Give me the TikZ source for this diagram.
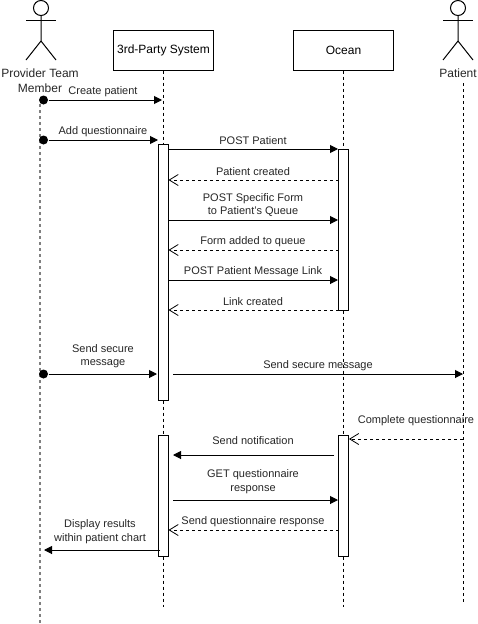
\documentclass[tikz,border=0pt]{standalone}
\usepackage{fontspec}
\setmainfont{Liberation Sans}
\usetikzlibrary{arrows.meta}

\begin{document}
\begin{tikzpicture}[x=1pt,y=-1pt,line width=1pt,
	part/.style={draw,minimum width=100pt,minimum height=40pt,inner sep=0pt,font=\fontsize{12}{14}\selectfont},
	act/.style={draw,fill=white,minimum width=10pt,inner sep=0pt},
	life/.style={dash pattern=on 3pt off 3pt},
	lifeg/.style={gray,line width=1.5pt,dash pattern=on 3pt off 3pt},
	fd/.style={circle,fill,inner sep=0pt,minimum size=9pt},
	msg/.style={font=\fontsize{11}{13.5}\selectfont,align=center,text=black!85,inner sep=0pt,yshift=-1pt},
	lbl/.style={font=\fontsize{12}{15}\selectfont,align=center,text=black!85,inner sep=0pt},
	call/.style={-{Triangle[length=8pt,width=8pt]}},
	ret/.style={dash pattern=on 3pt off 3pt,-{Straight Barb[length=9pt,width=11pt,line width=0.8pt]}}]
	
	\useasboundingbox (0,0) rectangle (477,624);
	
	% Actors
	\coordinate (pa) at (41,20);
	\node[circle,draw,inner sep=0pt,minimum size=15pt] (pahead) at (41,8) {};
	\coordinate (pal) at (26,20);
	\coordinate (par) at (56,20);
	\coordinate (pah) at (41,41);
	\coordinate (pafl) at (26,60);
	\coordinate (pafr) at (56,60);
	\draw (pahead) -- (pah) -- (pafl);
	\draw (pah) -- (pafr);
	\draw (pal) -- (par);
	\node[lbl] (palabel) at (40,80.5) {Provider Team\\Member};
	
	\node[circle,draw,inner sep=0pt,minimum size=15pt] (ptHead) at (458,8) {};
	\coordinate (ptl) at (443,20);
	\coordinate (ptr) at (473,20);
	\coordinate (pth) at (458,41);
	\coordinate (ptfl) at (443,60);
	\coordinate (ptfr) at (473,60);
	\draw (ptHead) -- (pth) -- (ptfl);
	\draw (pth) -- (ptfr);
	\draw (ptl) -- (ptr);
	\node[lbl] (ptlabel) at (458,73.5) {Patient};
	
	% Boxes
	\node[part] (sys) at (163.5,50) {3rd-Party System};
	\node[part] (ocean) at (343.5,50) {Ocean};
	
	% Lifelines
	\coordinate (paTop) at (40,104);
	\coordinate (paEnd) at (40,624);
	\coordinate (sysEnd) at (163.5,607);
	\coordinate (ocEnd) at (343.5,607);
	\coordinate (ptTop) at (463,83);
	\coordinate (ptEnd) at (463,603);
	\draw[lifeg] (paTop) -- (paEnd);
	\draw[life] (sys) -- (sysEnd);
	\draw[life] (ocean) -- (ocEnd);
	\draw[life] (ptTop) -- (ptEnd);
	
	% Activations
	\node[act,minimum height=256pt] (sysA) at (163.5,272) {};
	\node[act,minimum height=121pt] (sysB) at (163.5,495.5) {};
	\node[act,minimum height=161pt] (ocA) at (343.5,229.5) {};
	\node[act,minimum height=121pt] (ocB) at (343.5,495.5) {};
	
	% Found messages from the team member
	\node[fd] (d1) at (43.5,100) {};
	\node[fd] (d2) at (43.5,140) {};
	\node[fd] (d3) at (43.5,374) {};
	\coordinate (e1) at (162,100);
	\coordinate (e2) at (158,140);
	\coordinate (e3) at (157,374);
	\draw[call] (d1) -- (e1);
	\draw[call] (d2) -- (e2);
	\draw[call] (d3) -- (e3);
	\node[msg] (m1) at (103,91) {Create patient};
	\node[msg] (m2) at (103,131) {Add questionnaire};
	\node[msg] (m3) at (103,355) {Send secure\\message};
	
	% First block between system and Ocean
	\coordinate (s1) at (168.5,149);
	\coordinate (o1) at (338,149);
	\coordinate (s2) at (168.5,180);
	\coordinate (o2) at (338.5,180);
	\coordinate (s3) at (168.5,220);
	\coordinate (o3) at (338,220);
	\coordinate (s4) at (168.5,250);
	\coordinate (o4) at (338.5,250);
	\coordinate (s5) at (168.5,280);
	\coordinate (o5) at (338,280);
	\coordinate (s6) at (168.5,310);
	\coordinate (o6) at (338.5,310);
	\draw[call] (s1) -- (o1);
	\draw[ret] (o2) -- (s2);
	\draw[call] (s3) -- (o3);
	\draw[ret] (o4) -- (s4);
	\draw[call] (s5) -- (o5);
	\draw[ret] (o6) -- (s6);
	\node[msg] (m4) at (253,140) {POST Patient};
	\node[msg] (m5) at (253,171) {Patient created};
	\node[msg] (m6) at (253,204) {POST Specific Form\\to Patient's Queue};
	\node[msg] (m7) at (253,241) {Form added to queue};
	\node[msg] (m8) at (253,271) {POST Patient Message Link};
	\node[msg] (m9) at (253,301) {Link created};
	
	% Message to the patient
	\coordinate (s7) at (173,374);
	\coordinate (t7) at (463,374);
	\draw[call] (s7) -- (t7);
	\node[msg] (m10) at (318,365) {Send secure message};
	
	% Second block
	\coordinate (t8) at (463,439);
	\coordinate (o8) at (349,439);
	\coordinate (o9) at (334,455);
	\coordinate (s9) at (173,455);
	\coordinate (s10) at (173,500);
	\coordinate (o10) at (338,500);
	\coordinate (o11) at (338.5,530);
	\coordinate (s11) at (168.5,530);
	\coordinate (s12) at (160,550);
	\coordinate (p12) at (44,550);
	\draw[ret] (t8) -- (o8);
	\draw[call] (o9) -- (s9);
	\draw[call] (s10) -- (o10);
	\draw[ret] (o11) -- (s11);
	\draw[call] (s12) -- (p12);
	\node[msg] (m11) at (416,420) {Complete questionnaire};
	\node[msg] (m12) at (253,440) {Send notification};
	\node[msg] (m13) at (253,480.5) {GET questionnaire\\response};
	\node[msg] (m14) at (253,521) {Send questionnaire response};
	\node[msg] (m15) at (100,530.5) {Display results\\within patient chart};
	
\end{tikzpicture}
\end{document}
